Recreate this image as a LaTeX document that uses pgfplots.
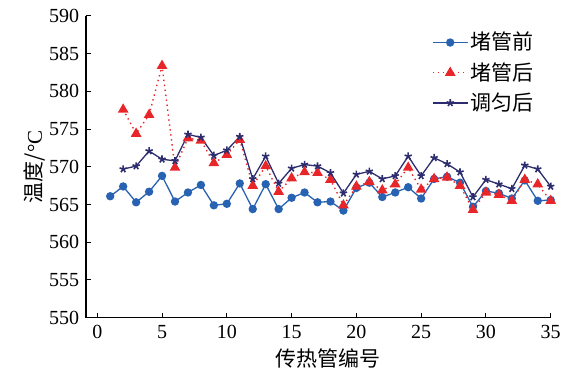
\documentclass[border=0pt]{standalone}
\usepackage{fontspec}
\setmainfont{Liberation Serif}
\newfontfamily\tnr{Liberation Serif}
\newfontfamily\cjk{Noto Sans CJK SC}
\usepackage{pgfplots}
\pgfplotsset{compat=1.18}
\definecolor{cblue}{RGB}{40,98,178}
\definecolor{cred}{RGB}{232,38,42}
\definecolor{cnavy}{RGB}{44,44,110}
\begin{document}
\fontsize{20bp}{24bp}\selectfont
\begin{tikzpicture}
\begin{axis}[name=ax,
  scale only axis, width=464.7bp, height=301.7bp,
  xmin=-0.87, xmax=35, ymin=550, ymax=590,
  axis lines*=left, axis line style={line width=1.1bp, black},
  tick align=inside, major tick length=5bp, tick style={line width=1bp, black},
  xtick={0,5,...,35}, ytick={550,555,...,590},
  /pgf/number format/assume math mode=true,
  ticklabel style={font=\tnr\fontsize{20bp}{24bp}\selectfont},
  xticklabel style={yshift=-1bp},
  xlabel={\cjk 传热管编号}, ylabel={\cjk 温度/\tnr °C},
  label style={font=\fontsize{21bp}{24bp}\selectfont},
  xlabel style={yshift=4bp, xshift=10bp},
  ylabel style={yshift=-10bp},
  clip=false,
  legend style={draw=none, fill=none, at={(rel axis cs:0.742,0.957)}, anchor=north west,
    font=\fontsize{21bp}{24bp}\selectfont\cjk, row sep=5.5bp, inner sep=1bp},
  legend cell align=left,
  legend image code/.code={\draw[mark repeat=2,mark phase=2] plot coordinates {(0bp,0bp) (17.5bp,0bp) (35bp,0bp)};},
]
\addplot[cblue, line width=1.3bp, mark=*, mark size=3.5bp, mark options={solid, fill=cblue, draw=cblue}] coordinates {
(1,566.1)(2,567.4)(3,565.3)(4,566.7)(5,568.8)(6,565.4)(7,566.6)(8,567.6)(9,564.9)(10,565.1)
(11,567.8)(12,564.4)(13,567.7)(14,564.4)(15,565.9)(16,566.6)(17,565.3)(18,565.4)(19,564.2)(20,567.2)
(21,567.9)(22,566.0)(23,566.6)(24,567.3)(25,565.8)(26,568.4)(27,568.7)(28,567.9)(29,564.7)(30,566.8)
(31,566.5)(32,565.8)(33,568.2)(34,565.5)(35,565.6)};
\addlegendentry{堵管前}
\addplot[cred, line width=1.4bp, dash pattern=on 1.4bp off 3.6bp, mark=triangle*, mark size=4.8bp, mark options={solid, fill=cred, draw=cred}] coordinates {
(2,577.6)(3,574.4)(4,576.9)(5,583.4)(6,569.9)(7,573.8)(8,573.5)(9,570.5)(10,571.6)
(11,573.6)(12,567.5)(13,570.1)(14,566.7)(15,568.5)(16,569.3)(17,569.2)(18,568.3)(19,564.9)(20,567.4)
(21,568.0)(22,566.9)(23,567.7)(24,569.9)(25,567.0)(26,568.4)(27,568.6)(28,567.5)(29,564.3)(30,566.6)
(31,566.3)(32,565.5)(33,568.3)(34,567.7)(35,565.5)};
\addlegendentry{堵管后}
\addplot[cnavy, line width=1.3bp, mark=star, mark size=3.8bp, mark options={solid, line width=1.6bp, draw=cnavy}] coordinates {
(2,569.7)(3,570.1)(4,572.1)(5,571.0)(6,570.8)(7,574.3)(8,573.9)(9,571.5)(10,572.2)
(11,574.0)(12,568.4)(13,571.4)(14,567.8)(15,569.8)(16,570.3)(17,570.1)(18,569.2)(19,566.5)(20,569.0)
(21,569.4)(22,568.4)(23,568.8)(24,571.4)(25,568.8)(26,571.2)(27,570.4)(28,569.3)(29,566.0)(30,568.3)
(31,567.7)(32,567.1)(33,570.2)(34,569.7)(35,567.4)};
\addlegendentry{调匀后}
\end{axis}
\pgfresetboundingbox
\path ([shift={(-86bp,-55.3bp)}]ax.south west) rectangle ([shift={(31.3bp,16bp)}]ax.north east);
\end{tikzpicture}
\end{document}
